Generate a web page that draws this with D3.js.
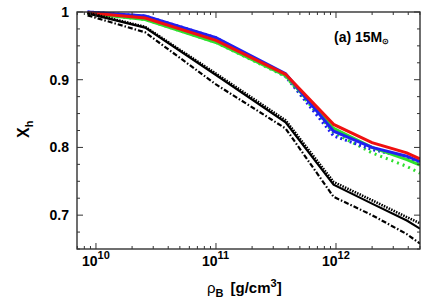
<!doctype html>
<html>
<head>
  <script src="https://cdnjs.cloudflare.com/ajax/libs/d3/7.8.5/d3.min.js"></script>
  <style>
    body { margin: 0; background: #fff; }
    text { font-family: "Liberation Sans", Arial, sans-serif; font-weight: bold; }
  </style>
</head>
<body>
  <svg id="chart" width="436" height="304"></svg>
  <script>
    // log10 of density, shared by every curve
    var logRho = [9.93, 10.41, 11.0, 11.58, 11.98, 12.3, 12.59, 12.7];

    var red   = [0.999, 0.991, 0.958, 0.908, 0.834, 0.807, 0.792, 0.783];
    var blue  = [1.000, 0.994, 0.962, 0.909, 0.824, 0.800, 0.787, 0.779];
    var green = [0.998, 0.989, 0.955, 0.906, 0.828, 0.800, 0.782, 0.774];
    var blueDot  = [1.000, 0.994, 0.962, 0.905, 0.817, 0.797, 0.785, 0.778];
    var greenDot = [0.998, 0.989, 0.955, 0.905, 0.822, 0.792, 0.772, 0.762];

    var blackSolid = [0.998, 0.977, 0.907, 0.837, 0.745, 0.717, 0.692, 0.680];
    var blackDot   = [0.999, 0.978, 0.909, 0.840, 0.749, 0.722, 0.697, 0.688];
    var blackDash  = [0.995, 0.970, 0.893, 0.828, 0.727, 0.700, 0.672, 0.658];

    var xMajor = [1e10, 1e11, 1e12];
    var xExp = ["10", "11", "12"];
    var yMajor = [0.7, 0.8, 0.9, 1];
    var yLabels = ["0.7", "0.9", "0.8", "1"];

    var m = {left: 77, right: 420, top: 12, bottom: 249};
    var svg = d3.select("#chart");

    var x = d3.scaleLog().domain([Math.pow(10, 9.842), Math.pow(10, 12.7)]).range([m.left, m.right]);
    var y = d3.scaleLinear().domain([0.65, 1]).range([m.bottom, m.top]);

    var plot = svg.append("g");
    plot.append("clipPath").attr("id", "clip")
      .append("rect").attr("x", m.left).attr("y", m.top - 3)
      .attr("width", m.right - m.left).attr("height", m.bottom - m.top + 3);

    var line = d3.line()
      .x((d, i) => x(Math.pow(10, logRho[i])))
      .y(d => y(d));

    var curves = [
      {v: greenDot, c: "#2ee02e", w: 3, dash: "2,4"},
      {v: blueDot, c: "#2020f0", w: 3, dash: "2,3"},
      {v: green, c: "#2ee02e", w: 3},
      {v: blue, c: "#2020f0", w: 3},
      {v: red, c: "#f01010", w: 3},
      {v: blackDash, c: "#000", w: 2.2, dash: "5,2,1.5,2"},
      {v: blackSolid, c: "#000", w: 2.2},
      {v: blackDot, c: "#000", w: 2.6, dash: "1.5,1.2"}
    ];

    plot.selectAll("path.curve")
      .data(curves)
      .enter()
      .append("path")
      .attr("class", "curve")
      .attr("clip-path", "url(#clip)")
      .attr("d", d => line(d.v))
      .attr("fill", "none")
      .attr("stroke", d => d.c)
      .attr("stroke-width", d => d.w)
      .attr("stroke-dasharray", d => d.dash || null);

    // frame
    svg.append("rect")
      .attr("x", m.left).attr("y", m.top)
      .attr("width", m.right - m.left).attr("height", m.bottom - m.top)
      .attr("fill", "none").attr("stroke", "#222").attr("stroke-width", 1.3);

    // x ticks (inside, bottom and top)
    var xTicks = x.ticks().filter(t => t >= x.domain()[0] && t <= x.domain()[1]);
    var tickG = svg.append("g").attr("stroke", "#333").attr("stroke-width", 1);
    xTicks.forEach(function(t) {
      var major = xMajor.some(v => Math.abs(v - t) / t < 1e-6);
      var len = major ? 6 : 3;
      tickG.append("line").attr("x1", x(t)).attr("x2", x(t)).attr("y1", m.bottom).attr("y2", m.bottom - len);
      tickG.append("line").attr("x1", x(t)).attr("x2", x(t)).attr("y1", m.top).attr("y2", m.top + len);
    });

    // y ticks
    d3.range(0.65, 1.0001, 0.025).forEach(function(t) {
      var major = yMajor.some(v => Math.abs(v - t) < 1e-6);
      var len = major ? 6 : 3;
      tickG.append("line").attr("y1", y(t)).attr("y2", y(t)).attr("x1", m.left).attr("x2", m.left + len);
      tickG.append("line").attr("y1", y(t)).attr("y2", y(t)).attr("x1", m.right).attr("x2", m.right - len);
    });

    // y tick labels
    svg.selectAll("text.ylab")
      .data(yMajor)
      .enter()
      .append("text")
      .attr("class", "ylab")
      .attr("x", 69)
      .attr("y", d => y(d) + 5)
      .attr("text-anchor", "end")
      .attr("font-size", 14)
      .text(d => d === 1 ? "1" : d.toFixed(1));

    // x tick labels
    var xl = svg.selectAll("text.xlab")
      .data(xMajor)
      .enter()
      .append("text")
      .attr("class", "xlab")
      .attr("x", d => x(d) - 14)
      .attr("y", 266)
      .attr("font-size", 14);
    xl.append("tspan").text("10");
    xl.append("tspan").attr("dy", -7).attr("font-size", 11).text((d, i) => xExp[i]);

    // axis titles
    var xt = svg.append("text").attr("x", 207).attr("y", 293).attr("font-size", 15);
    xt.append("tspan").attr("font-weight", "normal").text("ρ");
    xt.append("tspan").attr("dy", 4).attr("font-size", 11).text("B");
    xt.append("tspan").attr("dy", -4).attr("dx", 7).text("[g/cm");
    xt.append("tspan").attr("dy", -6).attr("font-size", 11).text("3");
    xt.append("tspan").attr("dy", 6).text("]");

    var yt = svg.append("text")
      .attr("transform", "translate(29,138) rotate(-90)")
      .attr("font-size", 16);
    yt.append("tspan").text("X");
    yt.append("tspan").attr("dy", 4).attr("font-size", 11).text("h");

    // panel label
    var pl = svg.append("text").attr("x", 334).attr("y", 42).attr("font-size", 14);
    pl.append("tspan").text("(a) 15M");
    pl.append("tspan").attr("dy", 2).attr("font-size", 8).text("⊙");
  </script>
</body>
</html>
